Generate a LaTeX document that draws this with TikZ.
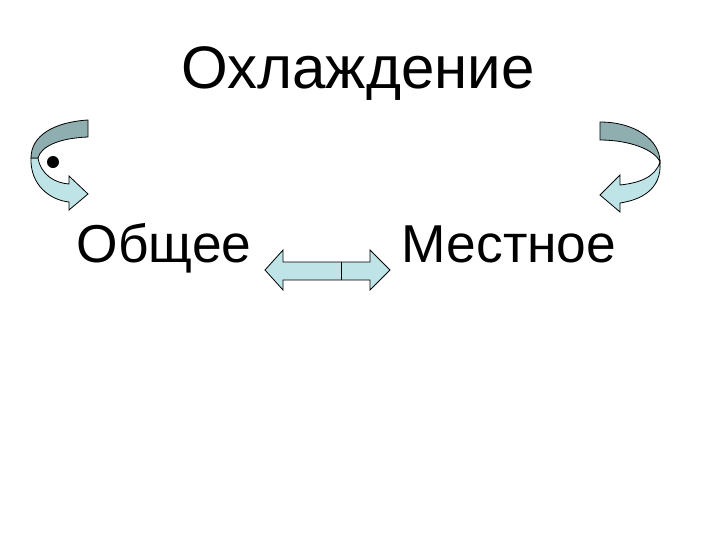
\documentclass[tikz,border=0pt]{standalone}
\usepackage{fontspec}
\setmainfont{Liberation Sans}
\begin{document}
\begin{tikzpicture}[x=0.75pt,y=-0.75pt,
  dark/.style={fill=darkband,draw=black,line width=0.6pt},
  light/.style={fill=lightband,draw=black,line width=0.6pt},
  lbl/.style={inner sep=0pt,anchor=base}]
\definecolor{darkband}{HTML}{8FAEB0}
\definecolor{lightband}{HTML}{BFE4E8}
\useasboundingbox (0,0) rectangle (720,540);
\node[lbl] (title) at (358,88) {\fontsize{45pt}{50pt}\selectfont Охлаждение};
\node[lbl] (obsh) at (164,262) {\fontsize{40pt}{46pt}\selectfont Общее};
\node[lbl] (mest) at (509,262) {\fontsize{40pt}{46pt}\selectfont Местное};
% left curved arrow
\draw[light] (31,158) .. controls (30,185) and (50,200) .. (69,202)
  -- (69,210) -- (88,194) -- (69,176) -- (69,184)
  .. controls (55,183) and (41,175) .. (38,158) -- cycle;
\draw[dark] (88,120) .. controls (55,122) and (31,135) .. (31,158)
  -- (38,158) .. controls (41,146) and (60,138) .. (88,137) -- cycle;
\node[circle,fill=black,inner sep=0pt,minimum size=9pt] (dot) at (53,162) {};
% right curved arrow
\draw[light] (660,162) .. controls (662,190) and (640,200) .. (620,203)
  -- (620,212) -- (600,195) -- (620,175) -- (620,185)
  .. controls (638,183) and (655,178) .. (660,162) -- cycle;
\draw[dark] (600,122) .. controls (635,122) and (660,140) .. (660,162)
  .. controls (655,150) and (630,140) .. (600,140) -- cycle;
% double arrow
\draw[light] (265,270) -- (283,250) -- (283,262) -- (370,262) -- (370,250)
  -- (390,270) -- (370,290) -- (370,280) -- (283,280) -- (283,290) -- cycle;
\draw[line width=0.6pt] (341,262) -- (341,280);
\end{tikzpicture}
\end{document}
